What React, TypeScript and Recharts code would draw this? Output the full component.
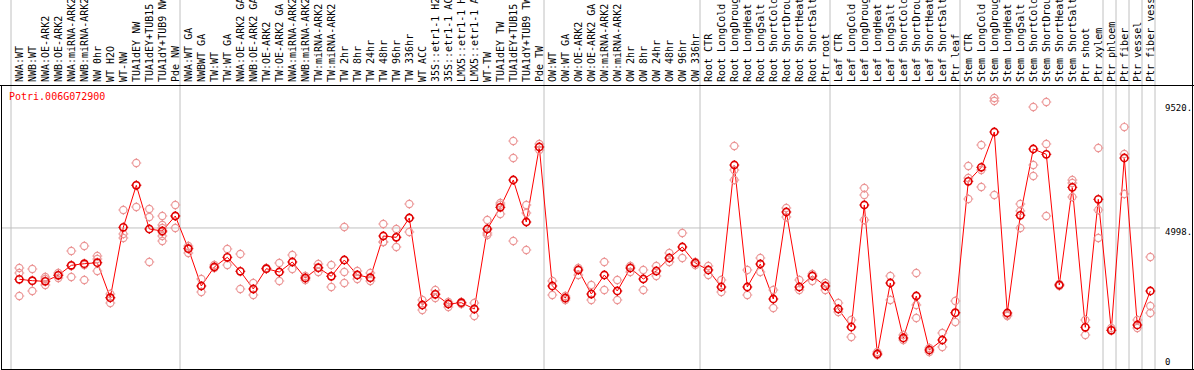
import React from "react";
import { ComposedChart, Line, Scatter, XAxis, YAxis, ReferenceLine } from "recharts";

const TITLE = "Potri.006G072900";

const LABELS: string[] = [
  "NWA:WT", "NWB:WT", "NWA:OE-ARK2", "NWB:OE-ARK2", "NWA:miRNA-ARK2", "NWB:miRNA-ARK2",
  "NW 0hr", "WT H2O", "WT-NW", "TUA1dEY NW", "TUA1dEY+TUB15", "TUA1dY+TUB9 NW", "Pde NW",
  "NWA:WT GA", "NWBWT GA", "TW:WT", "TW:WT GA", "NWA:OE-ARK2 GA", "NWB:OE-ARK2 GA",
  "TW:OE-ARK2", "TW:OE-ARK2 GA", "NWA:miRNA-ARK2", "NWB:miRNA-ARK2", "TW:miRNA-ARK2",
  "TW:miRNA-ARK2", "TW 2hr", "TW 8hr", "TW 24hr", "TW 48hr", "TW 96hr", "TW 336hr",
  "WT ACC", "35S::etr1-1 H2", "35S::etr1-1 AC", "LMX5::etr1-1 H", "LMX5::etr1-1 A",
  "WT-TW", "TUA1dEY TW", "TUA1dEY+TUB15", "TUA1dY+TUB9 TW", "Pde TW",
  "OW:WT", "OW:WT GA", "OW:OE-ARK2", "OW:OE-ARK2 GA", "OW:miRNA-ARK2", "OW:miRNA-ARK2",
  "OW 2hr", "OW 8hr", "OW 24hr", "OW 48hr", "OW 96hr", "OW 336hr",
  "Root CTR", "Root LongCold", "Root LongDroug", "Root LongHeat", "Root LongSalt",
  "Root ShortCold", "Root ShortDrou", "Root ShortHeat", "Root ShortSalt", "Ptr root",
  "Leaf CTR", "Leaf LongCold", "Leaf LongDroug", "Leaf LongHeat", "Leaf LongSalt",
  "Leaf ShortCold", "Leaf ShortDrou", "Leaf ShortHeat", "Leaf ShortSalt", "Ptr leaf",
  "Stem CTR", "Stem LongCold", "Stem LongDroug", "Stem LongHeat", "Stem LongSalt",
  "Stem ShortCold", "Stem ShortDrou", "Stem ShortHeat", "Stem ShortSalt",
  "Ptr shoot", "Ptr xylem", "Ptr phloem", "Ptr fiber", "Ptr vessel", "Ptr fiber vess",
];

const MEANS: number[] = [
  3137, 3086, 3064, 3282, 3644, 3702, 3738, 2469, 5022, 6545,
  4960, 4888, 5432, 4246, 2894, 3583, 3934, 3427, 2785, 3521,
  3401, 3764, 3184, 3557, 3245, 3836, 3292, 3195, 4707, 4659,
  5359, 2205, 2593, 2241, 2288, 2060, 4960, 5747, 6737, 5214,
  7934, 2894, 2458, 3474, 2603, 3292, 2712, 3546, 3147, 3437,
  3909, 4308, 3728, 3474, 2857, 7281, 2857, 3691, 2422, 5577,
  2857, 3256, 2894, 2060, 1407, 5831, 428, 3002, 1008, 2531,
  573, 936, 1925, 6690, 7198, 8478, 1915, 5457, 7861, 7669,
  2930, 6472, 1396, 6037, 1287, 7535, 1479, 2712,
];

const REPLICATES: number[][] = [
  [3546, 3365, 2531], [3510, 3075, 2712], [3220, 3147, 2930], [3365, 3292, 3184],
  [4163, 3619, 3220], [4344, 3655, 3111], [3981, 3872, 3437], [2603, 2458, 2277],
  [5650, 4780, 4635], [7353, 6556, 5758], [5686, 5396, 3764],
  [5432, 5106, 4997, 4852, 4707, 4525], [5831, 5432, 4997], [4344, 4272, 4090],
  [3147, 2676], [3655, 3546], [4236, 3655], [4054, 2785], [3002, 2567], [3546, 3510],
  [3728, 3075], [4018, 3510], [3256, 3184, 3111], [3691, 3546, 3401], [3655, 3256, 2857],
  [5033, 3401, 3002], [3437, 3292, 3147], [3365, 3184, 3075], [5142, 4489, 4489],
  [4960, 4670, 4308], [5867, 5359, 4852], [2386, 2205, 2023], [2749, 2603, 2458],
  [2313, 2241, 2132], [2313, 2277, 2241], [2277, 2060, 1806], [5287, 4815, 4743],
  [5903, 5834, 5505], [8151, 7535, 4525], [5831, 5541, 4199], [8043, 7825],
  [3075, 2567], [2531, 2386], [3546, 3292], [2930, 2386], [3764, 2749], [3111, 2386],
  [3619, 3401], [3474, 2749], [3619, 3256], [4090, 3764], [4815, 3909], [3764, 3655],
  [3619, 3292], [3111, 2676], [7970, 7100, 6737], [3474, 2567], [3909, 3401], [2749, 2096],
  [5722, 5396], [3111, 2749], [3329, 3075], [3002, 2749], [2277, 1951], [1661, 1044],
  [6447, 6193, 5287], [500, 392], [3256, 2386], [1117, 936], [3365, 2205, 1733],
  [645, 500], [1189, 682], [2350, 1915, 1588], [7245, 6810, 6048], [8006, 7100, 6484],
  [9710, 9601, 6193], [1842, 1806], [5867, 5614, 4997], [9384, 7281, 6883],
  [9565, 8043, 5432], [2966, 2894], [6737, 6628, 6121], [1661, 1117], [7897, 5650, 4635],
  [1371, 1298], [8658, 7680, 6230], [1661, 1371], [3945, 2168, 1915],
];

const SEPARATORS: number[] = [-1, 12, 40, 52, 62, 72, 83, 84, 85, 86, 87];
const Y_TICKS: number[] = [0, 4998, 9520];
const Y_TICK_TEXT: Record<number, string> = { 0: "0", 4998: "4998.", 9520: "9520." };

const lineData = MEANS.map((m, i) => ({ idx: i, mean: m }));
const repData = REPLICATES.flatMap((arr, i) => arr.map((v) => ({ idx: i, value: v })));
const xTicks = [-1, ...LABELS.map((_, i) => i)];

const MONO = "'DejaVu Sans Mono', 'Liberation Mono', monospace";
const GRID = "#c0c0c0";
const SEP_OFFSET = 0.3615;

function Marker({ cx, cy, color, sw }: { cx: number; cy: number; color: string; sw: number }) {
  if (cx == null || cy == null) return null;
  const r = 3.6;
  return (
    <g>
      <circle cx={cx} cy={cy} r={r} fill="none" stroke={color} strokeWidth={sw} />
      <line x1={cx} x2={cx} y1={cy - r - 1.4} y2={cy - r} stroke={color} strokeWidth={1} />
      <line x1={cx} x2={cx} y1={cy + r} y2={cy + r + 1.4} stroke={color} strokeWidth={1} />
      <line x1={cx - r - 1.4} x2={cx - r} y1={cy} y2={cy} stroke={color} strokeWidth={1} />
      <line x1={cx + r} x2={cx + r + 1.4} y1={cy} y2={cy} stroke={color} strokeWidth={1} />
    </g>
  );
}

function XTick(props: any) {
  const { x, payload } = props;
  const i: number = payload.value;
  return (
    <g>
      {SEPARATORS.includes(i) && (
        <line x1={x + SEP_OFFSET * 13} x2={x + SEP_OFFSET * 13} y1={0} y2={85} stroke={GRID} strokeWidth={1} />
      )}
      {i >= 0 && (
        <text
          transform={`translate(${x + 4},82) rotate(-90)`}
          textAnchor="start"
          fontFamily={MONO}
          fontSize={10}
          fill="#000"
        >
          {LABELS[i]}
        </text>
      )}
    </g>
  );
}

function YTick(props: any) {
  const { x, y, payload } = props;
  const v: number = payload.value;
  const ty = Math.min(y + 1, 359);
  return (
    <text x={x + 3} y={ty} dominantBaseline="hanging" textAnchor="start" fontFamily={MONO} fontSize={9} fill="#000">
      {Y_TICK_TEXT[v]}
    </text>
  );
}

export default function App() {
  return (
    <div style={{ position: "absolute", left: 0, top: 0, width: 1194, height: 370, background: "#fff" }}>
      <ComposedChart width={1194} height={370} data={lineData} margin={{ top: 0, right: 0, bottom: 1, left: 1 }}>
        <XAxis
          xAxisId="x"
          type="number"
          dataKey="idx"
          orientation="top"
          height={85}
          domain={[-1.408, 87.746]}
          allowDataOverflow
          ticks={xTicks}
          interval={0}
          tick={<XTick />}
          axisLine={false}
          tickLine={false}
        />
        <YAxis
          yAxisId="y"
          type="number"
          orientation="right"
          width={34}
          domain={[-116, 10182]}
          allowDataOverflow
          ticks={Y_TICKS}
          interval={0}
          tick={<YTick />}
          axisLine={false}
          tickLine={false}
          tickSize={0}
        />
        <ReferenceLine xAxisId="x" yAxisId="y" y={4998} stroke={GRID} strokeWidth={1} />
        {SEPARATORS.map((s) => (
          <ReferenceLine key={`sep-${s}`} xAxisId="x" yAxisId="y" x={s + SEP_OFFSET} stroke={GRID} strokeWidth={1} />
        ))}
        <Scatter
          xAxisId="x"
          yAxisId="y"
          data={repData}
          dataKey="value"
          isAnimationActive={false}
          shape={(p: any) => <Marker cx={p.cx} cy={p.cy} color="#eb9595" sw={1.1} />}
        />
        <Line
          xAxisId="x"
          yAxisId="y"
          dataKey="mean"
          type="linear"
          stroke="#ff0000"
          strokeWidth={1}
          isAnimationActive={false}
          dot={(p: any) => <Marker key={`m-${p.index}`} cx={p.cx} cy={p.cy} color="#e00000" sw={1.6} />}
          activeDot={false}
        />
      </ComposedChart>
      <div style={{ position: "absolute", left: 9, top: 91, fontFamily: MONO, fontSize: 10, color: "#ff0000", lineHeight: "12px", whiteSpace: "pre" }}>
        {TITLE}
      </div>
      <div style={{ position: "absolute", left: 0, top: 85, width: 1194, height: 1, background: "#000" }} />
      <div style={{ position: "absolute", left: 1, top: 85, width: 1, height: 285, background: "#000" }} />
      <div style={{ position: "absolute", left: 1, top: 369, width: 1193, height: 1, background: "#000" }} />
      <div style={{ position: "absolute", left: 1192, top: 0, width: 1, height: 370, background: "#000" }} />
    </div>
  );
}
